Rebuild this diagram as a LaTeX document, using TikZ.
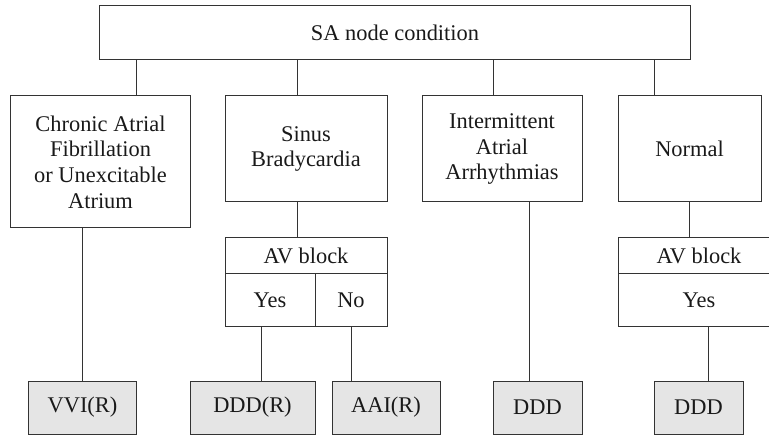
\documentclass[tikz,border=0pt]{standalone}
\usepackage{fontspec}
\setmainfont{Liberation Serif}
\usepackage{tikz}

\begin{document}
\begin{tikzpicture}[x=1bp, y=-1bp,
  box/.style={draw=black!80, line width=1bp, text=black!90, align=center, inner sep=0pt,
    font=\fontsize{22.5}{25.7}\selectfont},
  res/.style={box, fill=black!10, minimum height=53bp},
  link/.style={draw=black!80, line width=1bp}]
\useasboundingbox (0,0) rectangle (769,435);
\node[box, minimum width=590bp, minimum height=54bp] (sa) at (395, 33) {SA node condition};
\node[box, minimum width=179bp, minimum height=132bp] (caf) at (100.5, 162) {Chronic Atrial\\Fibrillation\\or Unexcitable\\Atrium};
\node[box, minimum width=162bp, minimum height=106bp] (sb) at (306, 149) {Sinus\\Bradycardia};
\node[box, minimum width=160bp, minimum height=106bp] (iaa) at (502, 149) {Intermittent\\Atrial\\Arrhythmias};
\node[box, minimum width=143bp, minimum height=106bp] (nrm) at (689.5, 149) {Normal};
\node[box, minimum width=162bp, minimum height=36bp] (avA) at (306, 256) {AV block};
\node[box, minimum width=90bp, minimum height=53bp] (yesA) at (270, 300.5) {Yes};
\node[box, minimum width=72bp, minimum height=53bp] (noA) at (351, 300.5) {No};
\node[box, minimum width=162bp, minimum height=36bp] (avB) at (699, 256) {AV block};
\node[box, minimum width=162bp, minimum height=53bp] (yesB) at (699, 300.5) {Yes};
\node[res, minimum width=107bp] (vvi) at (82.5, 407.5) {VVI(R)};
\node[res, minimum width=125bp] (dddr) at (252.5, 407.5) {DDD(R)};
\node[res, minimum width=108bp] (aair) at (386, 407.5) {AAI(R)};
\node[res, minimum width=89bp] (dddA) at (537.5, 407.5) {DDD};
\node[res, minimum width=89bp] (dddB) at (698.5, 407.5) {DDD};
\draw[link] ([xshift=35.5bp]caf.north) -- ([xshift=35.5bp]caf.north |- sa.south);
\draw[link] ([xshift=-9bp]sb.north) -- ([xshift=-9bp]sb.north |- sa.south);
\draw[link] ([xshift=-9bp]iaa.north) -- ([xshift=-9bp]iaa.north |- sa.south);
\draw[link] ([xshift=-35.5bp]nrm.north) -- ([xshift=-35.5bp]nrm.north |- sa.south);
\draw[link] ([xshift=-9bp]sb.south) -- ([xshift=-9bp]sb.south |- avA.north);
\draw[link] (nrm.south) -- (nrm.south |- avB.north);
\draw[link] (vvi.north) -- (vvi.north |- caf.south);
\draw[link] ([xshift=-9bp]yesA.south) -- ([xshift=-9bp]yesA.south |- dddr.north);
\draw[link] (noA.south) -- (noA.south |- aair.north);
\draw[link] ([xshift=27bp]iaa.south) -- ([xshift=27bp]iaa.south |- dddA.north);
\draw[link] ([xshift=9bp]yesB.south) -- ([xshift=9bp]yesB.south |- dddB.north);
\end{tikzpicture}
\end{document}
